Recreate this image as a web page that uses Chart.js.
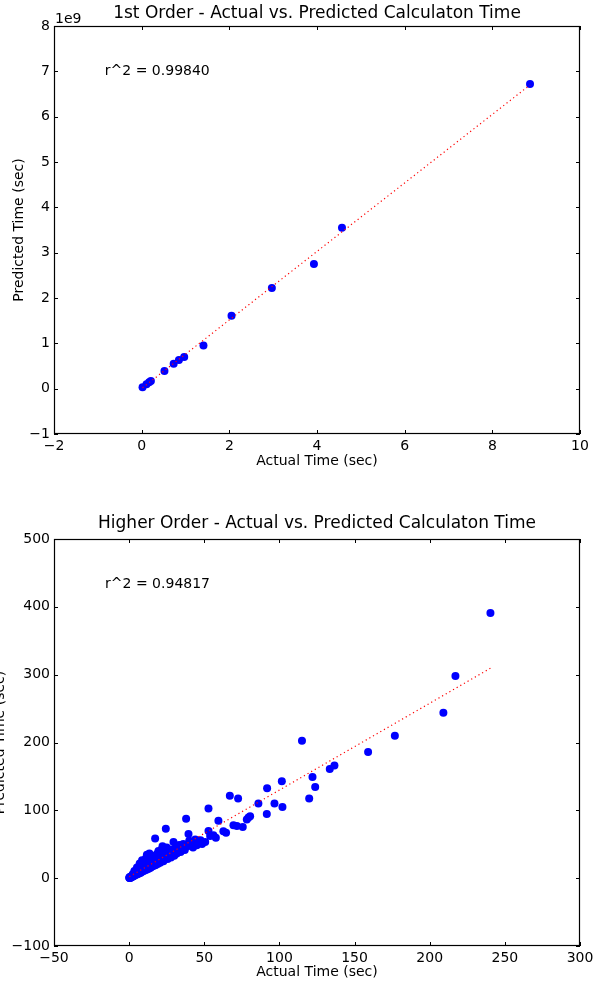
<!DOCTYPE html>
<html>
<head>
<meta charset="utf-8">
<script src="https://cdn.jsdelivr.net/npm/chart.js@4/dist/chart.umd.min.js"></script>
<style>
  html, body { margin: 0; padding: 0; background: #fff; overflow: hidden; }
  canvas { position: absolute; left: 0; }
  #first-order-chart { top: 0; }
  #higher-order-chart { top: 510px; }
</style>
</head>
<body>
<canvas id="first-order-chart" width="593" height="470"></canvas>
<canvas id="higher-order-chart" width="593" height="477"></canvas>
<script>
// 1st order - actual vs predicted (predicted in raw seconds, axis shows 1e9)
const actual1 = [0.02, 0.11, 0.17, 0.21, 0.52, 0.73, 0.85, 0.97, 1.41, 2.05, 2.97, 3.93, 4.57, 8.86];
const predicted1 = [0.03e9, 0.10e9, 0.14e9, 0.17e9, 0.39e9, 0.55e9, 0.63e9, 0.70e9, 0.95e9, 1.61e9, 2.22e9, 2.75e9, 3.55e9, 6.72e9];
const fitX1 = [0.02, 8.86];
const fitY1 = [0.02e9, 6.70e9];
const r2First = 'r^2 = 0.99840';

// higher order - actual vs predicted
const actual2 = [
  0.1, 0.2, 0.3, 0.5, 0.6, 0.8, 1.0, 1.2, 1.3, 1.5, 1.7, 2.0, 2.2, 2.4, 2.5, 2.7, 3.0, 3.1, 3.4, 3.5,
  3.6, 3.9, 4.0, 4.2, 4.5, 4.8, 5.0, 5.2, 5.3, 5.6, 5.9, 6.0, 6.2, 6.5, 6.8, 7.0, 7.1, 7.4, 7.7, 8.0,
  8.0, 8.3, 8.6, 8.6, 9.0, 9.3, 9.6, 10.0, 10.0, 10.3, 10.7, 11.0, 11.4, 11.8, 11.8, 12.0, 12.2, 12.6, 13.0, 13.5,
  13.8, 14.0, 14.3, 14.8, 15.3, 15.8, 16.0, 16.3, 16.8, 17.3, 17.5, 18.0, 18.0, 18.5, 19.0, 19.5, 20.0, 20.0, 20.6, 21.2,
  21.8, 22.0, 22.2, 22.8, 23.4, 24.0, 24.0, 24.4, 25.0, 25.6, 26.0, 26.3, 27.0, 27.8, 28.0, 28.5, 29.5, 30.0, 30.8, 31.7,
  32.0, 32.5, 33.3, 34.0, 34.2, 35.0, 36.0, 36.0, 37.0, 37.9, 38.5, 39.5, 40.0, 40.2, 41.7, 42.5, 43.5, 44.0, 45.0, 46.6,
  47.5, 48.5, 50.6, 52.8, 52.8, 53.9, 56.1, 57.7, 59.4, 62.7, 64.5, 67.0, 69.4, 71.7, 72.5, 75.6, 78.3, 79.4, 80.5, 86.0,
  91.6, 91.8, 96.7, 101.6, 102.0, 115.0, 119.8, 122.0, 123.8, 133.5, 136.6, 159.0, 176.8, 209.1, 217.1, 240.4
];
const predicted2 = [
  0.5, 1.0, 0.2, 1.2, 0.4, 2.0, 1.1, 2.5, 0.9, 1.8, 3.2, 2.1, 4.0, 2.6, 6.0, 5.1, 3.2, 6.0, 3.7, 10.5,
  4.8, 8.2, 9.0, 4.5, 6.3, 10.1, 5.4, 15.8, 7.5, 12.0, 6.3, 13.0, 9.0, 14.5, 7.2, 21.5, 10.6, 17.2, 8.1, 12.4,
  16.5, 20.5, 9.3, 26.5, 14.1, 23.5, 10.4, 16.0, 20.5, 26.8, 11.6, 18.3, 30.2, 12.8, 34.5, 25.0, 20.4, 33.5, 14.0, 36.4,
  22.5, 28.0, 15.5, 25.0, 29.5, 17.4, 23.5, 27.8, 32.5, 58.5, 19.2, 30.4, 25.5, 35.6, 20.8, 40.1, 33.0, 28.0, 22.6, 36.4,
  42.6, 31.0, 47.2, 25.0, 39.2, 29.4, 35.0, 72.7, 45.2, 28.2, 38.5, 35.8, 42.1, 30.6, 33.5, 38.0, 53.5, 33.1, 44.6, 36.4,
  46.0, 40.2, 48.8, 44.0, 38.5, 42.7, 50.2, 45.5, 41.6, 87.5, 46.5, 65.0, 55.0, 48.8, 51.0, 45.3, 52.6, 57.0, 48.7, 52.0,
  55.8, 50.4, 53.5, 102.8, 69.6, 62.0, 63.4, 59.4, 84.5, 69.3, 66.8, 121.4, 78.0, 77.0, 117.5, 75.5, 86.5, 89.5, 91.4, 110.0,
  94.7, 132.7, 110.0, 143.0, 105.0, 202.5, 117.5, 149.0, 134.5, 161.0, 166.0, 186.0, 210.0, 244.0, 298.0, 391.0
];
const fitX2 = [0.1, 240.4];
const fitY2 = [2.1, 309.5];
const r2Higher = 'r^2 = 0.94817';

const FONT = '"DejaVu Sans", sans-serif';
const minus = v => String(v).replace('-', '\u2212');

// frame, inward ticks on all four sides, and text notes
const axesBox = {
  id: 'axesBox',
  afterDraw(chart, args, opts) {
    const { ctx, chartArea: a, scales: { x, y } } = chart;
    ctx.save();
    ctx.strokeStyle = '#000';
    ctx.lineWidth = 1;
    ctx.beginPath();
    x.ticks.forEach(t => {
      const px = Math.round(x.getPixelForValue(t.value)) + 0.5;
      ctx.moveTo(px, a.bottom); ctx.lineTo(px, a.bottom - 4);
      ctx.moveTo(px, a.top); ctx.lineTo(px, a.top + 4);
    });
    y.ticks.forEach(t => {
      const py = Math.round(y.getPixelForValue(t.value)) + 0.5;
      ctx.moveTo(a.left, py); ctx.lineTo(a.left + 4, py);
      ctx.moveTo(a.right, py); ctx.lineTo(a.right - 4, py);
    });
    ctx.stroke();
    ctx.lineWidth = 1.2;
    ctx.strokeRect(a.left + 0.5, a.top + 0.5, a.width - 1, a.height - 1);

    ctx.fillStyle = '#000';
    ctx.font = '14px ' + FONT;
    ctx.textAlign = 'left';
    ctx.textBaseline = 'middle';
    ctx.fillText(opts.note, x.getPixelForValue(opts.noteAt[0]), y.getPixelForValue(opts.noteAt[1]));
    if (opts.offset) {
      ctx.textBaseline = 'alphabetic';
      ctx.fillText(opts.offset, a.left + 1, a.top - 3);
    }
    ctx.restore();
  }
};

function makeChart(id, cfg) {
  return new Chart(document.getElementById(id), {
    type: 'scatter',
    data: {
      datasets: [
        {
          type: 'line',
          data: cfg.fitX.map((v, i) => ({ x: v, y: cfg.fitY[i] })),
          borderColor: '#ff0000',
          borderWidth: 1.2,
          borderDash: [1.2, 3],
          pointRadius: 0,
          fill: false,
          order: 0
        },
        {
          data: cfg.xs.map((v, i) => ({ x: v, y: cfg.ys[i] })),
          backgroundColor: '#0000ff',
          borderColor: '#0000ff',
          borderWidth: 0,
          pointRadius: 4,
          pointHoverRadius: 4,
          order: 1
        }
      ]
    },
    options: {
      responsive: false,
      animation: false,
      events: [],
      layout: { padding: { left: 0, right: 13, top: 0, bottom: 0 } },
      plugins: {
        legend: { display: false },
        tooltip: { enabled: false },
        title: {
          display: true,
          fullSize: false,
          text: cfg.title,
          color: '#000',
          font: { family: FONT, size: 17, weight: 'normal' },
          padding: cfg.titlePad
        },
        axesBox: cfg.box
      },
      scales: {
        x: {
          type: 'linear',
          min: cfg.xMin, max: cfg.xMax,
          grid: { display: false, drawTicks: false },
          border: { display: false },
          ticks: {
            stepSize: cfg.xStep, padding: 4, color: '#000', maxRotation: 0, autoSkip: false,
            font: { family: FONT, size: 14 },
            callback: v => minus(v)
          },
          title: {
            display: true, text: 'Actual Time (sec)', color: '#000',
            font: { family: FONT, size: 14 }, padding: { top: 0, bottom: cfg.xTitlePad }
          },
          afterFit: s => { s.height = cfg.xAxisH; s.paddingLeft = 0; s.paddingRight = 0; }
        },
        y: {
          type: 'linear',
          min: cfg.yMin, max: cfg.yMax,
          grid: { display: false, drawTicks: false },
          border: { display: false },
          ticks: {
            stepSize: cfg.yStep, padding: 4, color: '#000', autoSkip: false,
            font: { family: FONT, size: 14 },
            callback: cfg.yLabel
          },
          title: {
            display: true, text: 'Predicted Time (sec)', color: '#000',
            font: { family: FONT, size: 14 }, padding: { top: cfg.yTitlePad, bottom: 0 }
          },
          afterFit: s => { s.width = 54; s.paddingTop = 0; s.paddingBottom = 0; }
        }
      }
    },
    plugins: [axesBox]
  });
}

makeChart('first-order-chart', {
  title: '1st Order - Actual vs. Predicted Calculaton Time',
  titlePad: { top: 3.5, bottom: 2.1 },
  xs: actual1, ys: predicted1, fitX: fitX1, fitY: fitY1,
  xMin: -2, xMax: 10, xStep: 2,
  yMin: -1e9, yMax: 8e9, yStep: 1e9,
  yLabel: v => minus(Math.round(v / 1e9)),
  xAxisH: 36, xTitlePad: 0.6, yTitlePad: 10.6,
  box: { note: r2First, noteAt: [-0.84, 7.0e9], offset: '1e9' }
});

makeChart('higher-order-chart', {
  title: 'Higher Order - Actual vs. Predicted Calculaton Time',
  titlePad: { top: 3.5, bottom: 5.1 },
  xs: actual2, ys: predicted2, fitX: fitX2, fitY: fitY2,
  xMin: -50, xMax: 300, xStep: 50,
  yMin: -100, yMax: 500, yStep: 100,
  yLabel: v => minus(v),
  xAxisH: 41, xTitlePad: 6.6, yTitlePad: -8.4,
  box: { note: r2Higher, noteAt: [-16, 433], offset: '' }
});
</script>
</body>
</html>
